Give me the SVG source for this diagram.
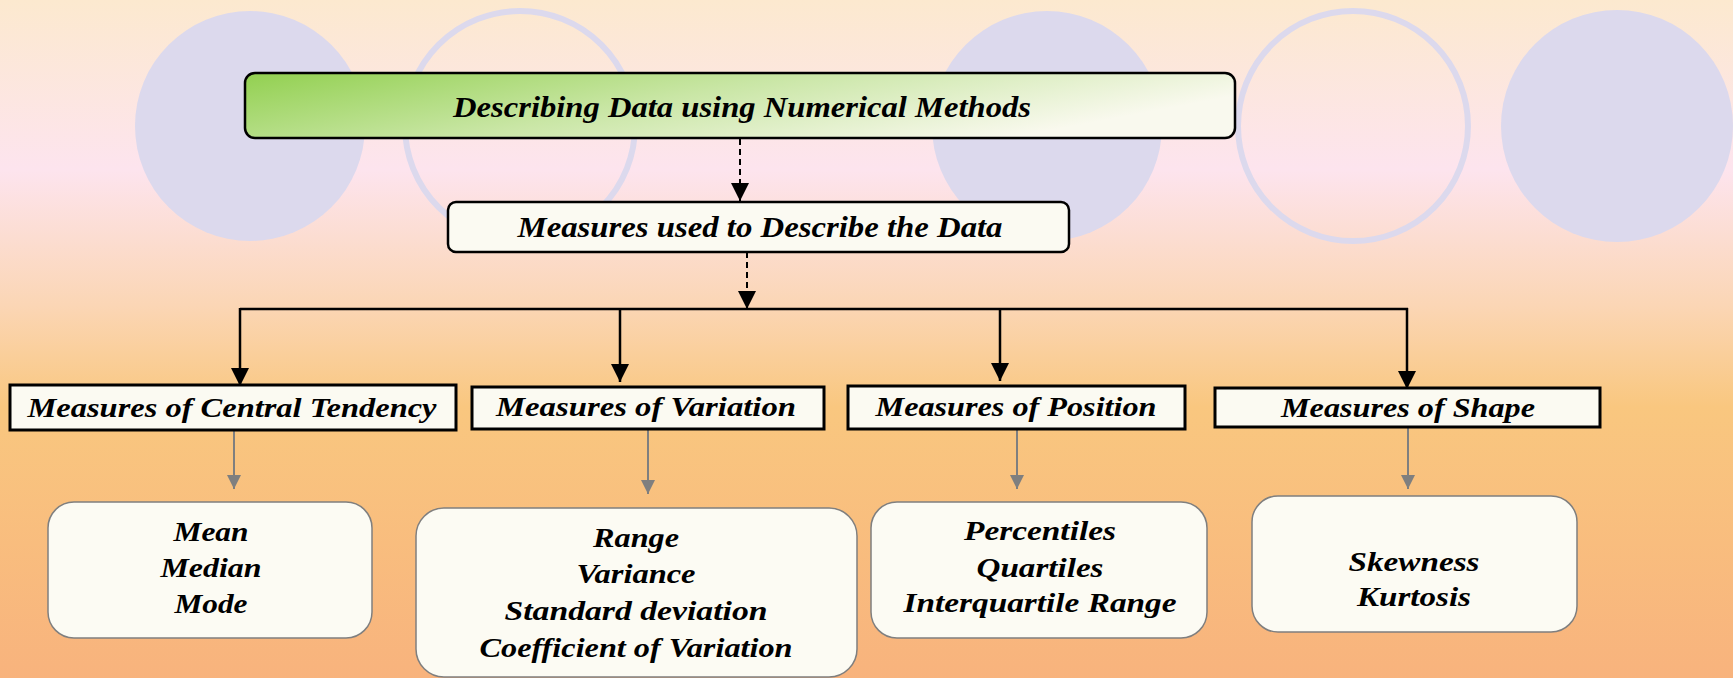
<svg xmlns="http://www.w3.org/2000/svg" width="1733" height="678" viewBox="0 0 1733 678">
<defs>
<linearGradient id="bg" x1="0" y1="0" x2="0" y2="1">
<stop offset="0" stop-color="#fce9cf"/>
<stop offset="0.25" stop-color="#fde4ee"/>
<stop offset="0.45" stop-color="#fbd6b5"/>
<stop offset="0.6" stop-color="#f9c77f"/>
<stop offset="1" stop-color="#f8b37d"/>
</linearGradient>
<linearGradient id="gtop" x1="0" y1="0" x2="1" y2="0.35">
<stop offset="0" stop-color="#92d050"/>
<stop offset="0.5" stop-color="#c9e6a5"/>
<stop offset="1" stop-color="#f9f9ee"/>
</linearGradient>
<marker id="ab" viewBox="0 0 10 10" refX="10" refY="5" markerWidth="24" markerHeight="18" markerUnits="userSpaceOnUse" orient="auto">
<path d="M0,0 L10,5 L0,10 z" fill="#000"/>
</marker>
<marker id="ag" viewBox="0 0 10 10" refX="10" refY="5" markerWidth="21" markerHeight="14" markerUnits="userSpaceOnUse" orient="auto">
<path d="M0,0 L10,5 L0,10 z" fill="#7f7f7f"/>
</marker>
</defs>
<style>
.t{font-family:"Liberation Serif","Times New Roman",serif;font-weight:bold;font-style:italic;fill:#000;text-anchor:middle}
.s{font-size:28px}
.lbl{fill:#fbfaf2;stroke:#000;stroke-width:3}
.rb{fill:#fcfbf3;stroke:#7f7f7f;stroke-width:1.5}
.circ{fill:#dcd9ed}
.ring{fill:none;stroke:#dcd9ed;stroke-width:6}
.blk{stroke:#000;stroke-width:2.5;fill:none}
.dash{stroke:#000;stroke-width:2;fill:none;stroke-dasharray:6 4}
.gry{stroke:#7f7f7f;stroke-width:2;fill:none}
</style>
<rect x="0" y="0" width="1733" height="678" fill="url(#bg)"/>
<g id="decor">
<circle class="circ" cx="250" cy="126" r="115"/>
<circle class="ring" cx="520" cy="126" r="115"/>
<circle class="circ" cx="1047" cy="126" r="115"/>
<circle class="ring" cx="1353" cy="126" r="115"/>
<circle class="circ" cx="1617" cy="126" r="116"/>
</g>
<g id="connectors">
<line class="dash" x1="740" y1="139" x2="740" y2="201" marker-end="url(#ab)"/>
<line class="dash" x1="747" y1="252" x2="747" y2="309" marker-end="url(#ab)"/>
<line class="blk" x1="240" y1="309" x2="1408" y2="309"/>
<line class="blk" x1="240" y1="308" x2="240" y2="386" marker-end="url(#ab)"/>
<line class="blk" x1="620" y1="308" x2="620" y2="382" marker-end="url(#ab)"/>
<line class="blk" x1="1000" y1="308" x2="1000" y2="381" marker-end="url(#ab)"/>
<line class="blk" x1="1407" y1="308" x2="1407" y2="389" marker-end="url(#ab)"/>
<line class="gry" x1="234" y1="431" x2="234" y2="489" marker-end="url(#ag)"/>
<line class="gry" x1="648" y1="430" x2="648" y2="494" marker-end="url(#ag)"/>
<line class="gry" x1="1017" y1="430" x2="1017" y2="489" marker-end="url(#ag)"/>
<line class="gry" x1="1408" y1="428" x2="1408" y2="489" marker-end="url(#ag)"/>
</g>
<g id="n-title">
<rect x="245" y="73" width="990" height="65" rx="10" fill="url(#gtop)" stroke="#000" stroke-width="2.5"/>
<text class="t" x="742" y="117" font-size="30" textLength="578" lengthAdjust="spacingAndGlyphs">Describing Data using Numerical Methods</text>
</g>
<g id="n-measures">
<rect x="448" y="202" width="621" height="50" rx="8" fill="#fbfaf2" stroke="#000" stroke-width="2.5"/>
<text class="t" x="760" y="237" font-size="29" textLength="485" lengthAdjust="spacingAndGlyphs">Measures used to Describe the Data</text>
</g>
<g id="n-central">
<rect class="lbl" x="10" y="385" width="446" height="45"/>
<text class="t s" x="232" y="417" textLength="409" lengthAdjust="spacingAndGlyphs">Measures of Central Tendency</text>
</g>
<g id="n-variation">
<rect class="lbl" x="472" y="387" width="352" height="42"/>
<text class="t s" x="646" y="416" textLength="300" lengthAdjust="spacingAndGlyphs">Measures of Variation</text>
</g>
<g id="n-position">
<rect class="lbl" x="848" y="386" width="337" height="43"/>
<text class="t s" x="1016" y="416" textLength="281" lengthAdjust="spacingAndGlyphs">Measures of Position</text>
</g>
<g id="n-shape">
<rect class="lbl" x="1215" y="388" width="385" height="39"/>
<text class="t s" x="1408" y="417" textLength="254" lengthAdjust="spacingAndGlyphs">Measures of Shape</text>
</g>
<g id="n-ct-list">
<rect class="rb" x="48" y="502" width="324" height="136" rx="26"/>
<text class="t s" x="211" y="541" textLength="75" lengthAdjust="spacingAndGlyphs">Mean</text>
<text class="t s" x="211" y="577" textLength="101" lengthAdjust="spacingAndGlyphs">Median</text>
<text class="t s" x="211" y="613" textLength="73" lengthAdjust="spacingAndGlyphs">Mode</text>
</g>
<g id="n-var-list">
<rect class="rb" x="416" y="508" width="441" height="169" rx="28"/>
<text class="t s" x="636" y="547" textLength="86" lengthAdjust="spacingAndGlyphs">Range</text>
<text class="t s" x="636" y="583" textLength="119" lengthAdjust="spacingAndGlyphs">Variance</text>
<text class="t s" x="636" y="620" textLength="263" lengthAdjust="spacingAndGlyphs">Standard deviation</text>
<text class="t s" x="636" y="657" textLength="313" lengthAdjust="spacingAndGlyphs">Coefficient of Variation</text>
</g>
<g id="n-pos-list">
<rect class="rb" x="871" y="502" width="336" height="136" rx="26"/>
<text class="t s" x="1040" y="540" textLength="152" lengthAdjust="spacingAndGlyphs">Percentiles</text>
<text class="t s" x="1040" y="577" textLength="127" lengthAdjust="spacingAndGlyphs">Quartiles</text>
<text class="t s" x="1040" y="612" textLength="273" lengthAdjust="spacingAndGlyphs">Interquartile Range</text>
</g>
<g id="n-shape-list">
<rect class="rb" x="1252" y="496" width="325" height="136" rx="26"/>
<text class="t s" x="1414" y="571" textLength="131" lengthAdjust="spacingAndGlyphs">Skewness</text>
<text class="t s" x="1414" y="606" textLength="114" lengthAdjust="spacingAndGlyphs">Kurtosis</text>
</g>
</svg>
